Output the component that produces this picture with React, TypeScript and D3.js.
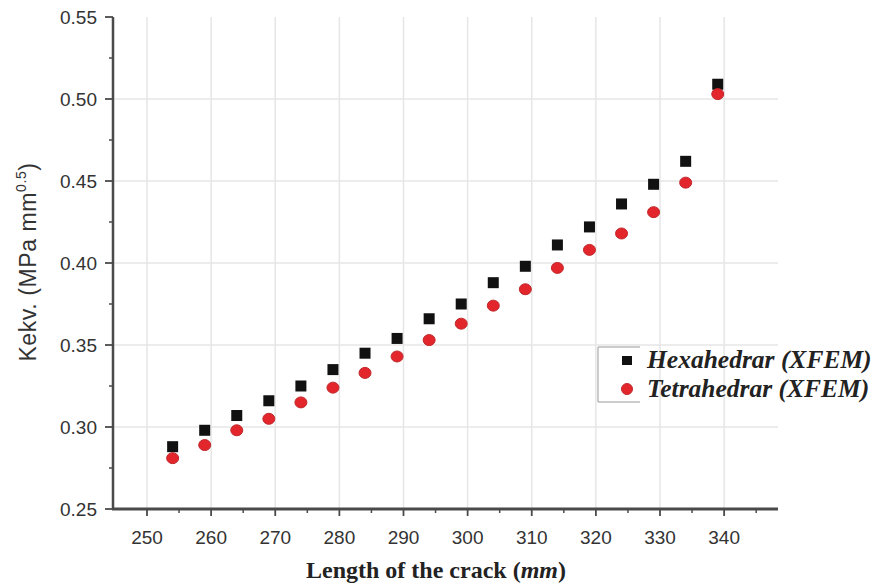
import React from 'react';
import * as d3 from 'd3';

const CRACK_LENGTH = [254, 259, 264, 269, 274, 279, 284, 289, 294, 299, 304, 309, 314, 319, 324, 329, 334, 339];
const HEXA = [0.288, 0.298, 0.307, 0.316, 0.325, 0.335, 0.345, 0.354, 0.366, 0.375, 0.388, 0.398, 0.411, 0.422, 0.436, 0.448, 0.462, 0.509];
const TETRA = [0.281, 0.289, 0.298, 0.305, 0.315, 0.324, 0.333, 0.343, 0.353, 0.363, 0.374, 0.384, 0.397, 0.408, 0.418, 0.431, 0.449, 0.503];
const X_TICKS = [250, 260, 270, 280, 290, 300, 310, 320, 330, 340];
const X_MINOR = [255, 265, 275, 285, 295, 305, 315, 325, 335, 345];
const Y_TICKS = [0.25, 0.3, 0.35, 0.4, 0.45, 0.5, 0.55];
const Y_MINOR = [0.275, 0.325, 0.375, 0.425, 0.475, 0.525];

const W = 875;
const H = 585;

export default function App() {
  const x = d3.scaleLinear().domain([244.7, 348.4]).range([113, 778]);
  const y = d3.scaleLinear().domain([0.25, 0.55]).range([509, 17]);
  const sans = 'Liberation Sans, Arial, sans-serif';
  const serif = 'Liberation Serif, Times New Roman, serif';
  const axisCol = '#4a4a4a';

  return (
    <svg width={W} height={H} style={{ position: 'absolute', left: 0, top: 0, background: '#fff' }}>
      {/* grid */}
      <g stroke="#e6e6e6" strokeWidth={1.5}>
        {X_TICKS.map(t => (
          <line key={'gx' + t} x1={x(t)} x2={x(t)} y1={y(0.55)} y2={y(0.25)} />
        ))}
        {Y_TICKS.slice(1, -1).map(t => (
          <line key={'gy' + t} x1={x.range()[0]} x2={x.range()[1]} y1={y(t)} y2={y(t)} />
        ))}
      </g>

      {/* axes */}
      <g stroke={axisCol}>
        <line x1={113} x2={113} y1={y(0.55)} y2={y(0.25) + 1} strokeWidth={2.5} />
        <line x1={112} x2={x.range()[1]} y1={y(0.25)} y2={y(0.25)} strokeWidth={3} />
        {Y_TICKS.map(t => (
          <line key={'ty' + t} x1={105} x2={113} y1={y(t)} y2={y(t)} strokeWidth={1.8} />
        ))}
        {Y_MINOR.map(t => (
          <line key={'my' + t} x1={109} x2={113} y1={y(t)} y2={y(t)} strokeWidth={1.5} />
        ))}
        {X_TICKS.map(t => (
          <line key={'tx' + t} x1={x(t)} x2={x(t)} y1={y(0.25)} y2={y(0.25) + 7} strokeWidth={1.8} />
        ))}
        {X_MINOR.map(t => (
          <line key={'mx' + t} x1={x(t)} x2={x(t)} y1={y(0.25)} y2={y(0.25) + 4} strokeWidth={1.5} />
        ))}
      </g>

      {/* tick labels */}
      <g fontFamily={sans} fontSize={19} fill="#333">
        {Y_TICKS.map(t => (
          <text key={'ly' + t} x={97} y={y(t)} dy="0.36em" textAnchor="end">
            {d3.format('.2f')(t)}
          </text>
        ))}
        {X_TICKS.map(t => (
          <text key={'lx' + t} x={x(t)} y={544} textAnchor="middle">
            {t}
          </text>
        ))}
      </g>

      {/* axis titles */}
      <text
        transform={`translate(36, 262) rotate(-90)`}
        textAnchor="middle"
        fontFamily={sans}
        fontSize={23}
        letterSpacing={0.6}
        fill="#333"
      >
        Kekv. (MPa mm<tspan fontSize={14} dy={-10}>0.5</tspan><tspan dy={10}>)</tspan>
      </text>
      <text x={436} y={578} textAnchor="middle" fontFamily={serif} fontSize={24} fontWeight="bold" fill="#222">
        Length of the crack (<tspan fontStyle="italic">mm</tspan>)
      </text>

      {/* data */}
      <g fill="#111">
        {CRACK_LENGTH.map((d, i) => (
          <rect key={'h' + i} x={x(d) - 5.5} y={y(HEXA[i]) - 5.5} width={11} height={11} />
        ))}
      </g>
      <g fill="#e2262b" stroke="#c0282c" strokeWidth={1}>
        {CRACK_LENGTH.map((d, i) => (
          <ellipse key={'t' + i} cx={x(d)} cy={y(TETRA[i])} rx={6} ry={5.5} />
        ))}
      </g>

      {/* legend */}
      <g>
        <g stroke="#999" strokeWidth={1}>
          <line x1={598} x2={598} y1={347} y2={402} />
          <line x1={598} x2={640} y1={347} y2={347} />
          <line x1={598} x2={640} y1={402} y2={402} />
        </g>
        <rect x={622} y={356} width={10} height={9} fill="#111" />
        <circle cx={627} cy={389} r={5.5} fill="#e2262b" stroke="#c0282c" />
        <g fontFamily={serif} fontSize={25.5} fontStyle="italic" fontWeight="bold" fill="#222">
          <text x={647} y={368}>Hexahedrar (XFEM)</text>
          <text x={647} y={397}>Tetrahedrar (XFEM)</text>
        </g>
      </g>
    </svg>
  );
}
